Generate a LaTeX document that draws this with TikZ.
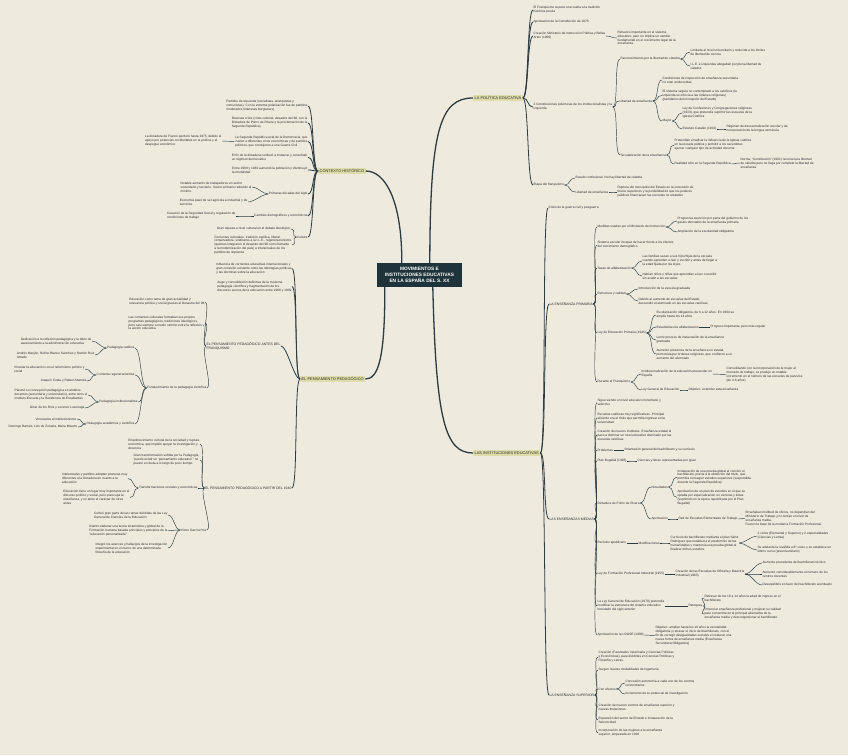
\documentclass[tikz,border=0pt]{standalone}
\usepackage{fontspec}
\setmainfont{Liberation Sans}
\usetikzlibrary{calc}
\definecolor{paper}{RGB}{238,234,222}
\definecolor{ink}{RGB}{44,60,66}
\definecolor{hubfill}{RGB}{31,52,58}
\definecolor{tagfill}{RGB}{222,220,168}
\definecolor{txt}{RGB}{45,45,45}
\newcommand{\toR}[3][link]{\draw[#1] (#2.east) .. controls ([xshift=6pt]#2.east) and ([xshift=-6pt]#3.west) .. (#3.west);}
\newcommand{\toL}[3][link]{\draw[#1] (#2.west) .. controls ([xshift=-6pt]#2.west) and ([xshift=6pt]#3.east) .. (#3.east);}
\begin{document}
\begin{tikzpicture}[x=1pt,y=-1pt,
  leaf/.style={font=\fontsize{3.2}{3.9}\selectfont,align=left,inner sep=0.4pt,text=txt},
  leafR/.style={leaf,anchor=west},
  leafL/.style={leaf,anchor=east},
  capsR/.style={leafR,font=\fontsize{3.4}{4.1}\selectfont},
  capsL/.style={leafL,font=\fontsize{3.4}{4.1}\selectfont},
  branch/.style={fill=tagfill,text=txt,font=\fontsize{3.9}{4.5}\selectfont,inner xsep=1.5pt,inner ysep=1.5pt,anchor=west},
  hub/.style={fill=hubfill,text=white,font=\fontsize{4.8}{6.2}\selectfont\bfseries,align=center,minimum width=85pt,minimum height=24pt,inner sep=1pt},
  link/.style={draw=ink,line width=0.45pt},
  linkb/.style={draw=ink,line width=0.8pt},
  hubline/.style={draw=ink,line width=1.3pt}]
\fill[paper] (0,0) rectangle (848,755);
\useasboundingbox (0,0) rectangle (848,755);

\node[hub] (hub) at (419.5,275) {MOVIMIENTOS E\\INSTITUCIONES EDUCATIVAS\\EN LA ESPAÑA DEL S. XX};
\node[branch] (pol) at (473,98) {LA POLÍTICA EDUCATIVA};
\node[branch] (ins) at (473,453) {LAS INSTITUCIONES EDUCATIVAS};
\node[branch] (ctx) at (318,171) {CONTEXTO HISTÓRICO};
\node[branch] (ped) at (300,379) {EL PENSAMIENTO PEDAGÓGICO};

\draw[hubline] ([xshift=25pt]hub.north west) .. controls (402,200) and (385,171) .. (ctx.east);
\draw[hubline] ([xshift=53pt]hub.north west) .. controls (430,130) and (440,98) .. (pol.west);
\draw[hubline] ([xshift=8pt]hub.south west) .. controls (385,360) and (378,379) .. (ped.east);
\draw[hubline] ([xshift=56pt]hub.south west) .. controls (436,420) and (445,453) .. (ins.west);

% la politica educativa
\node[leafR] (p1) at (533,10) {El Franquismo supuso una vuelta a la tradición\\histórica previa};
\node[leafR] (p2) at (533,22) {Aprobación de la Constitución de 1978};
\node[leafR] (p3) at (533,36) {Creación Ministerio de Instrucción Pública y Bellas\\Artes (1900)};
\node[leafR] (p3a) at (617,38) {Refuerzo importante en el sistema\\educativo, pero no implica un cambio\\fundamental en el crecimiento legal de la\\enseñanza};
\node[leafR] (p4) at (533,107) {2 Constituciones polémicas de los institucionalistas y la\\izquierda};
\node[leafR] (p4a) at (620,59) {Reconocimiento por la libertad de cátedra};
\node[leafR] (p4b) at (619,101) {Libertad de enseñanza};
\node[leafR] (p4c) at (620,155) {Secularización de la enseñanza};
\node[leafR] (p4a1) at (690,52) {Limitada al nivel universitario y reducida a los límites\\de libertad de ciencia};
\node[leafR] (p4a2) at (690,66) {I.L.E. e izquierdas abogaban por plena libertad de\\cátedra};
\node[leafR] (p4b1) at (662,80) {Condiciones de inspección de enseñanza secundaria\\no eran endurecidas};
\node[leafR] (p4b2) at (662,95.5) {El sistema seguía no contemplado a los católicos (la\\izquierda se ofrecía a las órdenes religiosas)\\(partidarios del monopolio del Estado)};
\node[leafR] (p4b3) at (662,121) {Mayor};
\node[leafR] (p4b3a) at (682,113) {Ley de Confesiones y Congregaciones religiosas\\(1933), que pretendía suprimir las escuelas de la\\Iglesia Católica};
\node[leafR] (p4b3b) at (682,129) {Estatuto Catalán (1932)};
\node[leafR] (p4b3b1) at (726,129) {Régimen de descentralización escolar y de\\incorporación de la lengua vernácula};
\node[leafR] (p4c1) at (674,145) {Pretendían erradicar la influencia de la Iglesia católica\\en la escuela pública y prohibir a los sacerdotes\\ejercer cualquier tipo de actividad docente};
\node[leafR] (p4c2) at (674,164) {Realidad sólo en la Segunda República};
\node[leafR] (p4c21) at (740,163) {Norma, ``Constitución'' (1931) reconocía la libertad\\de cátedra pero no llega por completo la libertad de\\enseñanza};
\node[leafR] (p5) at (533,185) {Etapa del franquismo};
\node[leafR] (p5a) at (575,178) {Estado confesional. No hay libertad de cátedra.};
\node[leafR] (p5b) at (575,192) {Libertad de enseñanza};
\node[leafR] (p5b1) at (617,192) {Ruptura del monopolio del Estado en la concesión de\\títulos superiores y la posibilidad de que los poderes\\públicos financiasen las escuelas no estatales};

\foreach \c in {p1,p2,p3,p4,p5} {\toR[linkb]{pol}{\c}}
\toR{p3}{p3a}
\foreach \c in {p4a,p4b,p4c} {\toR{p4}{\c}}
\foreach \c in {p4a1,p4a2} {\toR{p4a}{\c}}
\foreach \c in {p4b1,p4b2,p4b3} {\toR{p4b}{\c}}
\foreach \c in {p4b3a,p4b3b} {\toR{p4b3}{\c}}
\toR{p4b3b}{p4b3b1}
\foreach \c in {p4c1,p4c2} {\toR{p4c}{\c}}
\toR{p4c2}{p4c21}
\foreach \c in {p5a,p5b} {\toR{p5}{\c}}
\toR{p5b}{p5b1}

% las instituciones educativas
\node[leafR] (i1) at (548,208) {Crisis de la guerra civil y posguerra};
\node[capsR] (ip) at (549,304) {LA ENSEÑANZA PRIMARIA};
\node[capsR] (im) at (549,519) {LAS ENSEÑANZAS MEDIAS};
\node[capsR] (is) at (549,695) {LA ENSEÑANZA SUPERIOR};
\foreach \c in {i1,ip,im,is} {\toR[linkb]{ins}{\c}}

\node[leafR] (ip1) at (597,227) {Medidas usadas por el Ministerio de Instrucción};
\node[leafR] (ip1a) at (677,221) {Progresiva asunción por parte del gobierno de los\\gastos derivados de la enseñanza primaria};
\node[leafR] (ip1b) at (677,232) {Ampliación de la escolaridad obligatoria};
\node[leafR] (ip2) at (597,245) {Sistema escolar incapaz de hacer frente a los efectos\\del crecimiento demográfico};
\node[leafR] (ip3) at (597,268) {Tasas de alfabetización};
\node[leafR] (ip3a) at (642,261) {Las familias sacan a sus hijos/hijas de la escuela\\cuando aprenden a leer y escribir y antes de llegar a\\la edad fijada por las leyes};
\node[leafR] (ip3b) at (642,276) {Habían niños y niñas que aprendían a leer o escribir\\sin acudir a las escuelas};
\node[leafR] (ip4) at (597,294) {Estructura y calidad};
\node[leafR] (ip4a) at (638,289) {Introducción de la escuela graduada};
\node[leafR] (ip4b) at (638,301) {Debido al aumento de escuelas del Estado,\\descendió el alumnado en las escuelas católicas};
\node[leafR] (ip5) at (597,333) {Ley de Educación Primaria (1945)};
\node[leafR] (ip5a) at (656,315) {Escolarización obligatoria, de 6 a 12 años. En 1964 se\\amplía hasta los 14 años};
\node[leafR] (ip5b) at (656,327) {Estadísticas de alfabetización};
\node[leafR] (ip5b1) at (710,327) {Progreso importante, pero más regular};
\node[leafR] (ip5c) at (656,340) {Lento proceso de instauración de la enseñanza\\graduada};
\node[leafR] (ip5d) at (656,354) {Aumento presencia de la enseñanza no estatal,\\promovida por órdenes religiosas, que confiaron a un\\aumento del alumnado};
\node[leafR] (ip6) at (597,382) {Durante el Franquismo};
\node[leafR] (ip6a) at (641,374) {Institucionalización de la educación preescolar en\\España};
\node[leafR] (ip6a1) at (726,374.5) {Consolidando con la incorporación de la mujer al\\mercado de trabajo, se produjo un notable\\incremento en el número de las escuelas de párvulos\\(de 3-6 años)};
\node[leafR] (ip6b) at (641,390) {Ley General de Educación};
\node[leafR] (ip6b1) at (688,390) {Objetivo: extender esta enseñanza};

\foreach \c in {ip1,ip2,ip3,ip4,ip5,ip6} {\toR{ip}{\c}}
\foreach \c in {ip1a,ip1b} {\toR{ip1}{\c}}
\foreach \c in {ip3a,ip3b} {\toR{ip3}{\c}}
\foreach \c in {ip4a,ip4b} {\toR{ip4}{\c}}
\foreach \c in {ip5a,ip5b,ip5c,ip5d} {\toR{ip5}{\c}}
\toR{ip5b}{ip5b1}
\foreach \c in {ip6a,ip6b} {\toR{ip6}{\c}}
\toR{ip6a}{ip6a1}
\toR{ip6b}{ip6b1}

\node[leafR] (im1) at (597,402.5) {Sigue siendo un nivel educativo minoritario y\\selectivo};
\node[leafR] (im2) at (597,418) {Escuelas católicas muy significativas. Principal\\aliciente era el título que permitía ingresar en la\\universidad};
\node[leafR] (im3) at (597,435) {Creación de nuevos institutos. Enseñanza estatal al\\paso a dominar un nivel educativo dominado por las\\escuelas católicas};
\node[leafR] (im4) at (597,450) {Problemas};
\node[leafR] (im4a) at (624,450) {Orientación general del bachillerato y su currículo};
\node[leafR] (im5) at (597,461) {Plan Bugallal (1903)};
\node[leafR] (im5a) at (637,461) {Ciencias y letras representadas por igual};
\node[leafR] (im6) at (597,503) {Dictadura de Primo de Rivera};
\node[leafR] (im6a) at (651,487) {Novedades};
\node[leafR] (im6a1) at (677,477) {Instauración de una prueba global al concluir el\\bachillerato, previa a la obtención del título, que\\permitía conseguir estudios superiores (suspendida\\durante la Segunda República)};
\node[leafR] (im6a2) at (677,497.5) {Aprobación de un plan de estudios en el que se\\optaba por especialización en ciencias y letras\\(suprimido en la época republicana por el Plan\\Bugallal)};
\node[leafR] (im6b) at (651,519) {Aprobación};
\node[leafR] (im6b1) at (678,519) {Red de Escuelas Elementales de Trabajo};
\node[leafR] (im6b11) at (745,518.5) {Enseñaban multitud de oficios, no dependían del\\Ministerio de Trabajo y no tenían un nivel de\\enseñanza media.\\Fueron la base de la moderna Formación Profesional.};
\node[leafR] (im7) at (597,543) {Período republicano};
\node[leafR] (im7a) at (638,543) {Modificaciones};
\node[leafR] (im7a1) at (670,543) {Currículo de bachillerato mediante el plan Sáinz\\Rodríguez que establecía el predominio de las\\humanidades y mantenía una prueba global al\\finalizar dichos estudios};
\node[leafR] (im7a1a) at (757,536) {2 ciclos (Elemental y Superior) y 2 especialidades\\(Ciencias y Letras)};
\node[leafR] (im7a1b) at (757,550) {Se adelanta la reválida a 6º curso y se establece un\\último curso (preuniversitario)};
\node[leafR] (im8) at (597,574) {Ley de Formación Profesional Industrial (1955)};
\node[leafR] (im8a) at (675,574) {Creación de las Escuelas de Oficialía y Maestría\\Industrial (1963)};
\node[leafR] (im8a1) at (762,563) {Aumento procedente del bachillerato técnico};
\node[leafR] (im8a2) at (762,574) {Aumentó considerablemente el número de los\\centros docentes};
\node[leafR] (im8a3) at (762,585) {Desequilibrio en favor del bachillerato acentuado};
\node[leafR] (im9) at (597,606) {La Ley General de Educación (1970) pretendía\\modificar la estructura del sistema educativo\\heredado del siglo anterior};
\node[leafR] (im9a) at (688,606) {Retoques};
\node[leafR] (im9a1) at (704,598) {Retrasar de los 10 a 14 años la edad de ingreso en el\\bachillerato};
\node[leafR] (im9a2) at (704,614) {Potenciar enseñanza profesional y mejorar su calidad\\para convertirla en la principal alternativa de la\\enseñanza media y descongestionar el bachillerato};
\node[leafR] (im10) at (597,635) {Aprobación de la LOGSE (1990)};
\node[leafR] (im10a) at (655,635.5) {Objetivo: ampliar hasta los 16 años la escolaridad\\obligatoria y retrasar el inicio del bachillerato, con el\\fin de corregir desigualdades sociales e instaurar una\\nueva forma de enseñanza media (Enseñanza\\Secundaria Obligatoria)};

\foreach \c in {im1,im2,im3,im4,im5,im6,im7,im8,im9,im10} {\toR{im}{\c}}
\toR{im4}{im4a}
\toR{im5}{im5a}
\foreach \c in {im6a,im6b} {\toR{im6}{\c}}
\foreach \c in {im6a1,im6a2} {\toR{im6a}{\c}}
\toR{im6b}{im6b1}
\toR{im6b1}{im6b11}
\toR{im7}{im7a}
\toR{im7a}{im7a1}
\foreach \c in {im7a1a,im7a1b} {\toR{im7a1}{\c}}
\toR{im8}{im8a}
\foreach \c in {im8a1,im8a2,im8a3} {\toR{im8a}{\c}}
\toR{im9}{im9a}
\foreach \c in {im9a1,im9a2} {\toR{im9a}{\c}}
\toR{im10}{im10a}

\node[leafR] (is1) at (598,657) {Creación (Facultades Veterinaria y Ciencias Políticas\\y Económicas), para dividirlas en Ciencias Políticas y\\Filosofía y Letras.};
\node[leafR] (is2) at (598,670) {Surgen nuevas modalidades de Ingeniería};
\node[leafR] (is3) at (598,689) {Con efectos};
\node[leafR] (is3a) at (625,683) {Concesión autonomía a cada uno de los centros\\universitarios};
\node[leafR] (is3b) at (625,694) {Incremento de su potencial de investigación};
\node[leafR] (is4) at (598,707) {Creación de nuevos centros de enseñanza superior y\\nuevas titulaciones};
\node[leafR] (is5) at (598,720) {Expansión del sector del Estado e instauración de la\\Selectividad};
\node[leafR] (is6) at (598,733) {Incorporación de las mujeres a la enseñanza\\superior, empezada en 1910};
\foreach \c in {is1,is2,is3,is4,is5,is6} {\toR{is}{\c}}
\foreach \c in {is3a,is3b} {\toR{is3}{\c}}

% contexto historico
\node[leafL] (c1) at (308,106) {Partidos de izquierda (socialistas, anarquistas y\\comunistas). Con la extrema polarización fue de partidos\\moderados (intereses burgueses)};
\node[leafL] (c2) at (308,123) {Diversas crisis (crisis colonial, desastre del 98, con la\\Dictadura de Primo de Rivera y la proclamación de la\\Segunda República)};
\node[leafL] (c3) at (308,141.5) {La Segunda República está de la Democracia, que\\vuelve a diferentes crisis económicas y de partidos\\políticos, que condujeron a una Guerra Civil};
\node[leafL] (c3a) at (222,141) {La dictadura de Franco perduró hasta 1975, debido al\\apoyo por potencias occidentales en la política y el\\despegue económico};
\node[leafL] (c4) at (308,157.5) {El fin de la dictadura conllevó a instaurar y consolidar\\un régimen democrático};
\node[leafL] (c5) at (308,170) {Entre 1900 y 1930 aumentó la población y disminuyó\\la mortalidad};
\node[leafL] (c6) at (308,194) {Primeras décadas del siglo};
\node[leafL] (c6a) at (252,187) {Notable aumento de trabajadores en sector\\secundario y terciario. Sector primario reducido al\\mínimo.};
\node[leafL] (c6b) at (248,202) {Economía pasó de ser agrícola a industrial y de\\servicios.};
\node[leafL] (c7) at (308,216) {Cambios demográficos y económicos};
\node[leafL] (c7a) at (236,216) {Creación de la Seguridad Social y regulación de\\condiciones de trabajo};
\node[leafL] (c8) at (308,237) {Cultura};
\node[leafL] (c8a) at (291,229) {Gran riqueza a nivel cultural en el debate ideológico};
\node[leafL] (c8b) at (292,245) {Corrientes culturales: tradición católica, liberal\\conservadora, sindicatos a la I.L.E., regeneracionismo\\(quienes integraron el desastre del 98 como llamada\\a la modernización del país) e intelectuales de los\\partidos de izquierda};

\foreach \c in {c1,c2,c3,c4,c5,c6,c7,c8} {\toL[linkb]{ctx}{\c}}
\toL{c3}{c3a}
\foreach \c in {c6a,c6b} {\toL{c6}{\c}}
\toL{c7}{c7a}
\foreach \c in {c8a,c8b} {\toL{c8}{\c}}

% el pensamiento pedagogico
\node[leafL] (e1) at (292,268.5) {Influencia de corrientes educativas internacionales y\\gran conexión existente entre las ideologías políticas\\y las doctrinas sobre la educación};
\node[leafL] (e2) at (292,286.5) {Auge y consolidación definitiva de la moderna\\pedagogía científica y fragmentación de los\\discursos acerca de la educación entre 1900 y 1939};
\node[capsL] (e3) at (281,346) {EL PENSAMIENTO PEDAGÓGICO ANTES DEL\\FRANQUISMO};
\node[capsL] (e4) at (292,488) {EL PENSAMIENTO PEDAGÓGICO A PARTIR DEL 1940};
\foreach \c in {e1,e2,e3,e4} {\toL[linkb]{ped}{\c}}

\node[leafL] (e3a) at (205,302) {Educación como tema de gran actualidad y\\relevancia política y social gracias al Desastre del 98};
\node[leafL] (e3b) at (205,323) {Las corrientes culturales formaban sus propios\\programas pedagógicos, tradiciones ideológicos,\\pero casi siempre a medio camino entre la reflexión y\\la acción educativa};
\node[leafL] (e3c) at (207,388) {Fortalecimiento de la pedagogía científica};
\foreach \c in {e3a,e3b,e3c} {\toL{e3}{\c}}

\node[leafL] (f1) at (135,348) {Pedagogía católica};
\node[leafL] (f2) at (135,375) {Corriente regeneracionista};
\node[leafL] (f3) at (138,402) {Pedagogía institucionalista};
\node[leafL] (f4) at (135,424) {Pedagogía académica y científica};
\foreach \c in {f1,f2,f3,f4} {\toL{e3c}{\c}}

\node[leafL] (f1a) at (92,341) {Dedicación a la reflexión pedagógica y la labor de\\asesoramiento a la administración educativa};
\node[leafL] (f1b) at (95,355) {Andrés Manjón, Rufino Blanco Sánchez y Ramón Ruiz\\Amado};
\node[leafL] (f2a) at (85,369) {Vincular la educación con el reformismo político y\\social};
\node[leafL] (f2b) at (87,381) {Joaquín Costa y Rafael Altamira};
\node[leafL] (f3a) at (88,395) {Plasmó su concepción pedagógica en ámbitos\\docentes (secundaria y universitario), entre otros el\\Instituto-Escuela y la Residencia de Estudiantes};
\node[leafL] (f3b) at (85,408) {Giner de los Ríos y Lorenzo Luzuriaga};
\node[leafL] (f4a) at (77,419) {Vinculados al institucionismo};
\node[leafL] (f4b) at (78,427) {Domingo Barnés, Luis de Zulueta, María Maeztu};
\foreach \c in {f1a,f1b} {\toL{f1}{\c}}
\foreach \c in {f2a,f2b} {\toL{f2}{\c}}
\foreach \c in {f3a,f3b} {\toL{f3}{\c}}
\foreach \c in {f4a,f4b} {\toL{f4}{\c}}

\node[leafL] (g1) at (200,444) {Empobrecimiento cultural de la sociedad y ruptura\\económica, que impidió apoyar la investigación y\\docencia};
\node[leafL] (g2) at (200,460) {Gran transformación sufrida por la Pedagogía,\\``puede existir un `pensamiento educativo'\,'' no\\puesto en duda a lo largo de poco tiempo.};
\node[leafL] (g3) at (198,488) {Transformaciones sociales y económicas};
\node[leafL] (g4) at (207,530) {Víctor García Hoz};
\foreach \c in {g1,g2,g3,g4} {\toL{e4}{\c}}

\node[leafL] (g3a) at (128,478.5) {Intelectuales y partidos adoptan posturas muy\\diferentes a la Dictadura en cuanto a la\\educación};
\node[leafL] (g3b) at (130,497.5) {Educación tiene un lugar muy importante en el\\discurso político y social, pero preocupa la\\enseñanza, y no tanto el carácter de otros\\antes};
\node[leafL] (g4a) at (168,515) {Cultivó gran parte de las ramas divididas de las Ley\\General de Ciencias de la Educación};
\node[leafL] (g4b) at (168,530.5) {Intentó elaborar una teoría sistemática y global de la\\Formación humana basada principios y principios de la\\``educación personalizada''};
\node[leafL] (g4c) at (168,548) {Integró los avances y hallazgos de la investigación\\experimental en el marco de una determinada\\filosofía de la educación};
\foreach \c in {g3a,g3b} {\toL{g3}{\c}}
\foreach \c in {g4a,g4b,g4c} {\toL{g4}{\c}}
\end{tikzpicture}
\end{document}
